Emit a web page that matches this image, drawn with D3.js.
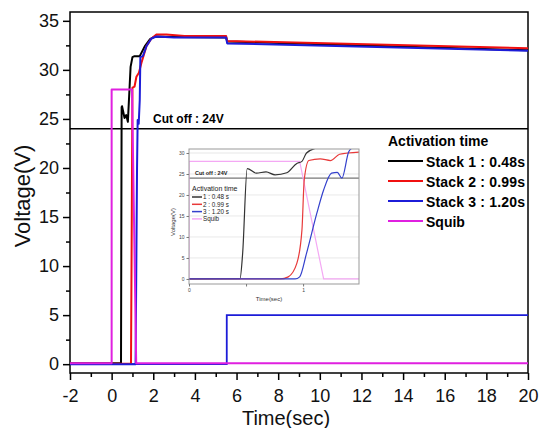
<!DOCTYPE html>
<html>
<head>
<meta charset="utf-8">
<script src="https://cdn.jsdelivr.net/npm/d3@7"></script>
<style>
body { margin: 0; background: #fff; }
svg { font-family: "Liberation Sans", Arial, sans-serif; }
</style>
</head>
<body>
<script>
// main traces, [time (s), voltage (V)]
var stack1 = [[-2,0.1],[0.45,0.1],[0.48,26.2],[0.5,26.3],[0.62,25.1],[0.7,25.4],[0.78,24.7],[0.91,30.3],[1.0,31.3],[1.1,31.4],[1.35,31.4],[1.59,32.4],[1.83,33.1],[2.07,33.4],[3,33.35],[5.5,33.3],[5.55,32.9],[20,32.0]];
var stack2 = [[-2,0.05],[0.93,0.05],[1.0,28.2],[1.1,28.3],[1.19,29.3],[1.31,29.7],[1.43,30.7],[1.67,32.4],[1.91,33.2],[2.15,33.6],[2.63,33.6],[3.5,33.45],[5.5,33.45],[5.55,32.95],[20,32.2]];
var stack3 = [[-2,0],[1.15,0],[1.22,20],[1.25,24.9],[1.3,24.5],[1.35,26.9],[1.38,31.3],[1.5,31.4],[1.67,32.4],[1.91,33.2],[2.15,33.4],[3,33.3],[5.5,33.3],[5.55,32.7],[20,31.95]];
var squib = [[-2,0.1],[0,0.1],[0,28],[0.98,28],[1.18,0.1],[20,0.1]];
var marker5V = [[-2,0],[5.53,0],[5.53,5],[20,5]];

var legendNames = ['Stack 1 : 0.48s','Stack 2 : 0.99s','Stack 3 : 1.20s','Squib'];
var colors = ['#000000','#f01010','#1c1cd8','#e020e0'];
var xTicks = [-2,0,2,4,6,8,10,12,14,16,18,20];
var yTicks = [0,5,10,15,20,25,30,35];
var cutoff = 24;

// inset traces (zoom on 0 - 1.5 s)
var inStack1 = [[0,0],[0.447,0.1],[0.47,6],[0.51,26.3],[0.59,25.2],[0.675,25.5],[0.755,24.8],[0.857,25.3],[0.945,27.5],[0.99,28],[1.03,30],[1.12,31.2]];
var inStack2 = [[0,0],[0.8,0],[0.87,0.5],[0.945,3.7],[0.99,11.7],[1.01,23.6],[1.05,28.2],[1.15,28.6],[1.24,28.2],[1.32,29.7],[1.49,30.2]];
var inStack3 = [[0,0],[0.93,0],[0.97,0.5],[1.03,6.1],[1.12,15.6],[1.18,21.2],[1.25,25.2],[1.3,25.4],[1.34,24],[1.4,30.3],[1.43,31.2]];
var inSquib = [[0,0],[0,28],[0.97,28],[1.18,0],[1.49,0]];
var inNames = ['1 : 0.48 s','2 : 0.99 s','3 : 1.20 s','Squib'];
var inColors = ['#333333','#e83a3a','#3340cc','#f4a8f4'];

var svg = d3.select('body').append('svg')
  .attr('width',544).attr('height',428);

var x = d3.scaleLinear().domain([-2,20]).range([70,528]);
var y = d3.scaleLinear().domain([-0.9,35.9]).range([373,12]);

// frame
svg.append('rect').attr('x',70).attr('y',12).attr('width',458).attr('height',361)
  .attr('fill','none').attr('stroke','#000').attr('stroke-width',1.5);

// minor ticks
svg.append('g').attr('transform','translate(70,0)')
  .call(d3.axisLeft(y).tickValues(d3.range(2.5,35,5)).tickSize(4).tickFormat(''))
  .call(function(g){ g.select('.domain').remove(); g.selectAll('line').attr('stroke-width',1.5); });
svg.append('g').attr('transform','translate(0,373)')
  .call(d3.axisBottom(x).tickValues(d3.range(-1,20,2)).tickSize(4).tickFormat(''))
  .call(function(g){ g.select('.domain').remove(); g.selectAll('line').attr('stroke-width',1.5); });

var yAxis = svg.append('g').attr('transform','translate(70,0)')
  .call(d3.axisLeft(y).tickValues(yTicks).tickSize(7).tickPadding(4).tickSizeOuter(0));
yAxis.select('.domain').remove();
yAxis.selectAll('line').attr('stroke-width',1.5);
yAxis.selectAll('text').attr('font-size',18).attr('fill','#111').attr('font-family','Liberation Sans, Arial');

var xAxis = svg.append('g').attr('transform','translate(0,373)')
  .call(d3.axisBottom(x).tickValues(xTicks).tickSize(7).tickPadding(9).tickSizeOuter(0)
    .tickFormat(function(d){ return String(d); }));
xAxis.select('.domain').remove();
xAxis.selectAll('line').attr('stroke-width',1.5);
xAxis.selectAll('text').attr('font-size',18).attr('fill','#111').attr('font-family','Liberation Sans, Arial');

svg.append('text').attr('x',286).attr('y',425).attr('text-anchor','middle')
  .attr('font-size',20).attr('fill','#111').text('Time(sec)');
svg.append('text').attr('transform','translate(30,196) rotate(-90)').attr('text-anchor','middle')
  .attr('font-size',22).attr('fill','#111').text('Voltage(V)');

// cut off line
svg.append('line').attr('x1',70).attr('x2',528).attr('y1',y(cutoff)).attr('y2',y(cutoff))
  .attr('stroke','#000').attr('stroke-width',1.5);
svg.append('text').attr('x',153).attr('y',123).attr('font-size',12).attr('font-weight','bold')
  .text('Cut off : 24V');

svg.append('clipPath').attr('id','mainClip').append('rect')
  .attr('x',70).attr('y',12).attr('width',458).attr('height',361);

var line = d3.line().x(function(d){ return x(d[0]); }).y(function(d){ return y(d[1]); });
var traces = svg.append('g').attr('clip-path','url(#mainClip)');
traces.append('path').attr('d',line(marker5V)).attr('fill','none').attr('stroke',colors[2]).attr('stroke-width',1.8);
[stack1,stack2,stack3,squib].forEach(function(s,i){
  traces.append('path').attr('d',line(s)).attr('fill','none')
    .attr('stroke',colors[i]).attr('stroke-width',2).attr('stroke-linejoin','round');
});

// legend
svg.append('text').attr('x',388).attr('y',146).attr('font-size',14).attr('font-weight','bold')
  .text('Activation time');
legendNames.forEach(function(n,i){
  var ly = 161 + i*20;
  svg.append('line').attr('x1',388).attr('x2',423).attr('y1',ly).attr('y2',ly)
    .attr('stroke',colors[i]).attr('stroke-width',2);
  svg.append('text').attr('x',426).attr('y',ly+6).attr('font-size',14).attr('font-weight','bold')
    .attr('textLength',i<3 ? 99 : null).text(n);
});

// inset
var ix = d3.scaleLinear().domain([0,1.49]).range([189,359]);
var iy = d3.scaleLinear().domain([-1.2,30.95]).range([284,149]);
var inset = svg.append('g');

inset.selectAll('.grid').data([0,5,10,15,20,25,30]).enter().append('line')
  .attr('x1',189).attr('x2',359).attr('y1',function(d){ return iy(d); }).attr('y2',function(d){ return iy(d); })
  .attr('stroke','#e2e2e2').attr('stroke-width',0.8);
inset.append('line').attr('x1',189).attr('x2',359).attr('y1',iy(cutoff)).attr('y2',iy(cutoff))
  .attr('stroke','#777').attr('stroke-width',1.3);
inset.append('text').attr('x',195).attr('y',175).attr('font-size',5.5).attr('font-weight','bold')
  .attr('fill','#222').text('Cut off : 24V');

inset.append('clipPath').attr('id','inClip').append('rect')
  .attr('x',189).attr('y',149).attr('width',170).attr('height',135);
var iline = d3.line().curve(d3.curveMonotoneX)
  .x(function(d){ return ix(d[0]); }).y(function(d){ return iy(d[1]); });
var itr = inset.append('g').attr('clip-path','url(#inClip)');
[inSquib,inStack1,inStack2,inStack3].forEach(function(s,k){
  var i = [3,0,1,2][k];
  itr.append('path').attr('d',(k==0 ? d3.line().x(function(d){ return ix(d[0]); }).y(function(d){ return iy(d[1]); }) : iline)(s))
    .attr('fill','none').attr('stroke',inColors[i]).attr('stroke-width',1.2);
});

inset.append('rect').attr('x',189).attr('y',149).attr('width',170).attr('height',135)
  .attr('fill','none').attr('stroke','#999').attr('stroke-width',1);

var iyAxis = inset.append('g').attr('transform','translate(189,0)')
  .call(d3.axisLeft(iy).tickValues([0,5,10,15,20,25,30]).tickSize(2.5).tickPadding(2).tickSizeOuter(0));
iyAxis.select('.domain').remove();
iyAxis.selectAll('line').attr('stroke','#777');
iyAxis.selectAll('text').attr('font-size',5).attr('fill','#444');
var ixAxis = inset.append('g').attr('transform','translate(0,284)')
  .call(d3.axisBottom(ix).tickValues([0,0.5,1]).tickSize(2.5).tickPadding(2).tickSizeOuter(0)
    .tickFormat(function(d){ return d==0.5 ? '' : d; }));
ixAxis.select('.domain').remove();
ixAxis.selectAll('line').attr('stroke','#777');
ixAxis.selectAll('text').attr('font-size',5).attr('fill','#444');

inset.append('text').attr('x',269).attr('y',301).attr('text-anchor','middle')
  .attr('font-size',6).attr('fill','#333').text('Time(sec)');
inset.append('text').attr('transform','translate(175,222) rotate(-90)').attr('text-anchor','middle')
  .attr('font-size',6).attr('fill','#333').text('Voltage(V)');

inset.append('text').attr('x',192).attr('y',191).attr('font-size',7).attr('fill','#222')
  .text('Activation time');
inNames.forEach(function(n,i){
  var ly = 197 + i*7.3;
  inset.append('line').attr('x1',192).attr('x2',202).attr('y1',ly).attr('y2',ly)
    .attr('stroke',inColors[i]).attr('stroke-width',1.5);
  inset.append('text').attr('x',203).attr('y',ly+2.3).attr('font-size',6.3).attr('fill','#222').text(n);
});
</script>
</body>
</html>
